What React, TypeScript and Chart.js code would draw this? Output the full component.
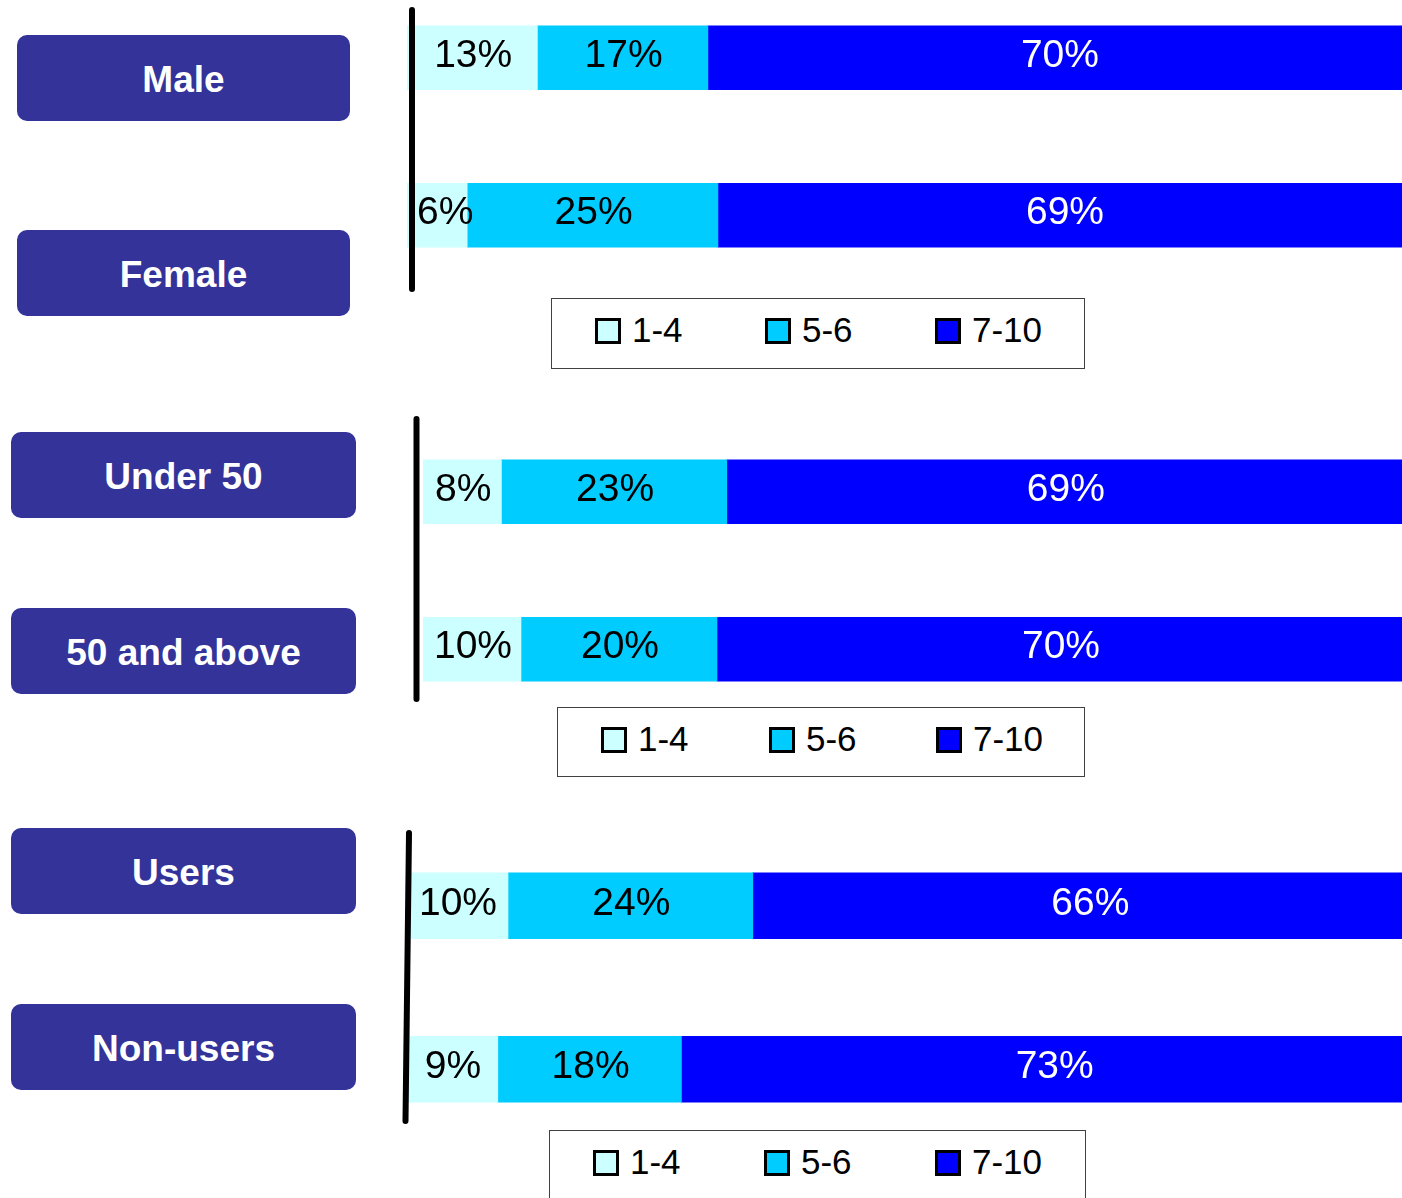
import React, { useEffect, useRef } from "react";
import { Chart, registerables } from "chart.js";

Chart.register(...registerables);

// ---- data ----
const categories = ["Male", "Female", "Under 50", "50 and above", "Users", "Non-users"];
const seriesLabels = ["1-4", "5-6", "7-10"];
const score1to4 = [13, 6, 8, 10, 10, 9];
const score5to6 = [17, 25, 23, 20, 24, 18];
const score7to10 = [70, 69, 69, 70, 66, 73];
const panelGroups = [
  [0, 1],
  [2, 3],
  [4, 5],
];

const seriesValues = [score1to4, score5to6, score7to10];
const seriesColors = ["#CCFFFF", "#00CCFF", "#0000FF"];
const labelColors = ["#000000", "#000000", "#FFFFFF"];

const FONT = "'Liberation Sans', Arial, Helvetica, sans-serif";

// ---- layout ----
const panelLayout = [
  { left: 407, top: -21, width: 1003, height: 315, thickness: 64, visibleFrom: 9, axis: [412, 10, 412, 289] },
  { left: 423, top: 413, width: 980, height: 315, thickness: 64, visibleFrom: 0, axis: [416.5, 419, 416.5, 699] },
  { left: 406, top: 824, width: 1020, height: 327, thickness: 66, visibleFrom: 5, axis: [409, 833, 405.5, 1121] },
];
const boxLayout = [
  { left: 17, top: 35, width: 333 },
  { left: 17, top: 230, width: 333 },
  { left: 11, top: 432, width: 345 },
  { left: 11, top: 608, width: 345 },
  { left: 11, top: 828, width: 345 },
  { left: 11, top: 1004, width: 345 },
];
const legendLayout = [
  { left: 551, top: 298, width: 534, height: 71, items: [43, 213, 383] },
  { left: 557, top: 707, width: 528, height: 70, items: [43, 211, 378] },
  { left: 549, top: 1130, width: 537, height: 90, items: [43, 214, 385] },
];

const barLabelPlugin = {
  id: "barLabels",
  afterDatasetsDraw(chart: any, _args: any, opts: any) {
    const ctx = chart.ctx;
    const visibleFrom = (opts && opts.visibleFrom) || 0;
    ctx.save();
    ctx.font = `39px ${FONT}`;
    ctx.textAlign = "center";
    ctx.textBaseline = "middle";
    chart.data.datasets.forEach((ds: any, di: number) => {
      const meta = chart.getDatasetMeta(di);
      meta.data.forEach((el: any, i: number) => {
        const p = el.getProps(["x", "y", "base"], true);
        const text = `${ds.data[i]}%`;
        const w = ctx.measureText(text).width;
        let cx = (p.x + p.base) / 2 + 1;
        cx = Math.max(cx, visibleFrom + w / 2 + 1);
        ctx.fillStyle = labelColors[di];
        ctx.fillText(text, cx, p.y - 2);
      });
    });
    ctx.restore();
  },
};

function Panel({ index }: { index: number }) {
  const ref = useRef<HTMLCanvasElement | null>(null);
  const lay = panelLayout[index];
  useEffect(() => {
    if (!ref.current) return;
    const idx = panelGroups[index];
    const chart = new Chart(ref.current, {
      type: "bar",
      data: {
        labels: idx.map((i) => categories[i]),
        datasets: seriesLabels.map((lab, s) => ({
          label: lab,
          data: idx.map((i) => seriesValues[s][i]),
          backgroundColor: seriesColors[s],
          borderWidth: 0,
          barThickness: lay.thickness,
        })),
      },
      options: {
        indexAxis: "y",
        responsive: false,
        maintainAspectRatio: false,
        animation: false,
        devicePixelRatio: 1,
        layout: { padding: 0 },
        scales: {
          x: { stacked: true, min: 0, max: 100, display: false },
          y: { stacked: true, display: false, offset: true },
        },
        plugins: {
          legend: { display: false },
          tooltip: { enabled: false },
          barLabels: { visibleFrom: lay.visibleFrom },
        },
      },
      plugins: [barLabelPlugin],
    } as any);
    return () => chart.destroy();
  }, [index]);
  return (
    <canvas
      ref={ref}
      width={lay.width}
      height={lay.height}
      style={{ position: "absolute", left: lay.left, top: lay.top, width: lay.width, height: lay.height }}
    />
  );
}

function Legend({ index }: { index: number }) {
  const l = legendLayout[index];
  return (
    <div
      style={{
        position: "absolute",
        left: l.left,
        top: l.top,
        width: l.width,
        height: l.height,
        boxSizing: "border-box",
        border: "1px solid #404040",
        background: "#fff",
        fontFamily: FONT,
      }}
    >
      {seriesLabels.map((lab, s) => (
        <React.Fragment key={lab}>
          <div
            style={{
              position: "absolute",
              left: l.items[s],
              top: 19,
              width: 26,
              height: 26,
              boxSizing: "border-box",
              border: "3px solid #000",
              background: seriesColors[s],
            }}
          />
          <div
            style={{
              position: "absolute",
              left: l.items[s] + 37,
              top: 13,
              fontSize: 35,
              lineHeight: "35px",
              color: "#000",
              whiteSpace: "nowrap",
            }}
          >
            {lab}
          </div>
        </React.Fragment>
      ))}
    </div>
  );
}

export default function App() {
  return (
    <div
      style={{
        position: "absolute",
        left: 0,
        top: 0,
        width: 1402,
        height: 1198,
        overflow: "hidden",
        background: "#fff",
      }}
    >
      {categories.map((c, i) => (
        <div
          key={c}
          style={{
            position: "absolute",
            left: boxLayout[i].left,
            top: boxLayout[i].top,
            width: boxLayout[i].width,
            height: 86,
            borderRadius: 10,
            background: "#333399",
            color: "#fff",
            fontFamily: FONT,
            fontWeight: "bold",
            fontSize: 37,
            display: "flex",
            alignItems: "center",
            justifyContent: "center",
          }}
        >
          <span style={{ display: "inline-block", transform: "translateY(2px)" }}>{c}</span>
        </div>
      ))}
      {legendLayout.map((_, i) => (
        <Legend key={i} index={i} />
      ))}
      {panelLayout.map((_, i) => (
        <Panel key={i} index={i} />
      ))}
      <svg
        width={1402}
        height={1198}
        style={{ position: "absolute", left: 0, top: 0, pointerEvents: "none" }}
      >
        {panelLayout.map((p, i) => (
          <line
            key={i}
            x1={p.axis[0]}
            y1={p.axis[1]}
            x2={p.axis[2]}
            y2={p.axis[3]}
            stroke="#000"
            strokeWidth={6}
            strokeLinecap="round"
          />
        ))}
      </svg>
    </div>
  );
}
